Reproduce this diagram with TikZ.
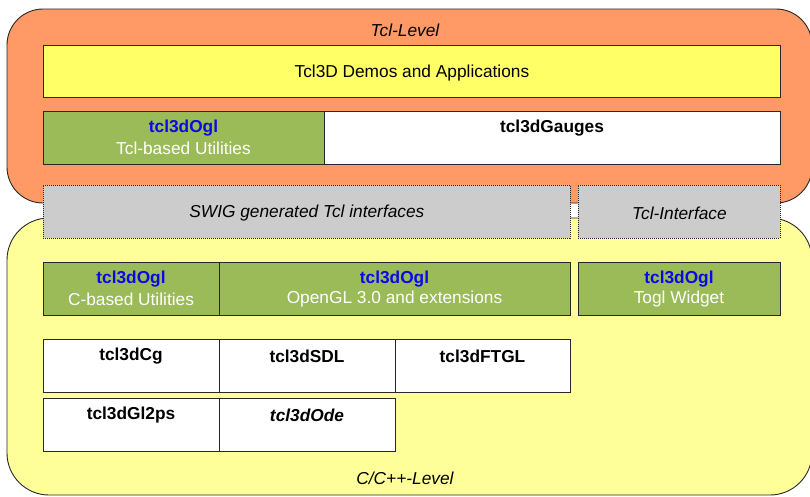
\documentclass[tikz,border=0pt]{standalone}
\usepackage{fontspec}
\setmainfont{Liberation Sans}
\definecolor{orangebg}{RGB}{255,153,102}
\definecolor{yellowbg}{RGB}{255,255,153}
\definecolor{demoyellow}{RGB}{255,255,102}
\definecolor{boxgreen}{RGB}{155,187,89}
\definecolor{boxgray}{RGB}{204,204,204}
\definecolor{edge}{RGB}{40,40,40}
\definecolor{oglblue}{RGB}{10,10,230}
\begin{document}
\begin{tikzpicture}[x=1pt,y=-1pt,
  every node/.style={font=\fontsize{17.3}{20}\selectfont, inner sep=0pt},
  lvl/.style={draw=edge, line width=0.9pt},
  box/.style={draw=edge, line width=0.8pt, anchor=north west, minimum height=53pt},
  whitebox/.style={box, fill=white},
  greenbox/.style={box, fill=boxgreen},
  graybox/.style={box, fill=boxgray, dash pattern=on 1pt off 1pt},
  txt/.style={yshift=-1.5pt},
  title/.style={txt, font=\fontsize{17.3}{20}\selectfont\bfseries},
  oglt/.style={txt, font=\fontsize{17.3}{20}\selectfont\bfseries, text=oglblue},
  sub/.style={txt, text=white},
  itl/.style={txt, font=\fontsize{17.3}{20}\selectfont\itshape}
]
\useasboundingbox (0,0) rectangle (810,496);
% level backgrounds
\path[lvl, fill=orangebg, rounded corners=36pt] (7,9) rectangle (812,203);
\path[lvl, fill=yellowbg, rounded corners=42pt] (7,218) rectangle (812,495);
\node[itl] (tcllevel) at (405,29) {Tcl-Level};
\node[itl] (clevel) at (405,477) {C/C++-Level};
% Tcl level
\node[box, fill=demoyellow, minimum width=737pt, minimum height=52pt] (demos) at (43,45) {};
\node[txt] (demost) at (demos.center) {Tcl3D Demos and Applications};
\node[greenbox, minimum width=281pt] (tclutil) at (43,111) {};
\node[oglt] (tclutil1) at (183.5,127) {tcl3dOgl};
\node[sub] (tclutil2) at (183.5,147) {Tcl-based Utilities};
\node[whitebox, minimum width=456pt] (gauges) at (324,111) {};
\node[title] (gaugest) at (552,127) {tcl3dGauges};
% interfaces
\node[graybox, minimum width=527pt] (swig) at (43,185) {};
\node[itl] (swigt) at (swig.center) {SWIG generated Tcl interfaces};
\node[graybox, minimum width=202pt] (tclif) at (578,185) {};
\node[itl] (tclift) at (tclif.center) {Tcl-Interface};
% C level green row
\node[greenbox, minimum width=176pt] (cutil) at (43,262) {};
\node[oglt] (cutil1) at (131,278) {tcl3dOgl};
\node[sub] (cutil2) at (131,298) {C-based Utilities};
\node[greenbox, minimum width=351pt] (opengl) at (219,262) {};
\node[oglt] (opengl1) at (394.5,278) {tcl3dOgl};
\node[sub] (opengl2) at (394.5,298) {OpenGL 3.0 and extensions};
\node[greenbox, minimum width=202pt] (togl) at (578,262) {};
\node[oglt] (togl1) at (679,278) {tcl3dOgl};
\node[sub] (togl2) at (679,298) {Togl Widget};
% white rows
\node[whitebox, minimum width=176pt] (cg) at (43,339) {};
\node[title] (cgt) at (131,355) {tcl3dCg};
\node[whitebox, minimum width=176pt] (sdl) at (219,339) {};
\node[title] (sdlt) at (307,355) {tcl3dSDL};
\node[whitebox, minimum width=175pt] (ftgl) at (395,339) {};
\node[title] (ftglt) at (482.5,355) {tcl3dFTGL};
\node[whitebox, minimum width=176pt] (gl2ps) at (43,398) {};
\node[title] (gl2pst) at (131,414) {tcl3dGl2ps};
\node[whitebox, minimum width=176pt] (ode) at (219,398) {};
\node[title, font=\fontsize{17.3}{20}\selectfont\bfseries\itshape] (odet) at (307,414) {tcl3dOde};
\end{tikzpicture}
\end{document}
